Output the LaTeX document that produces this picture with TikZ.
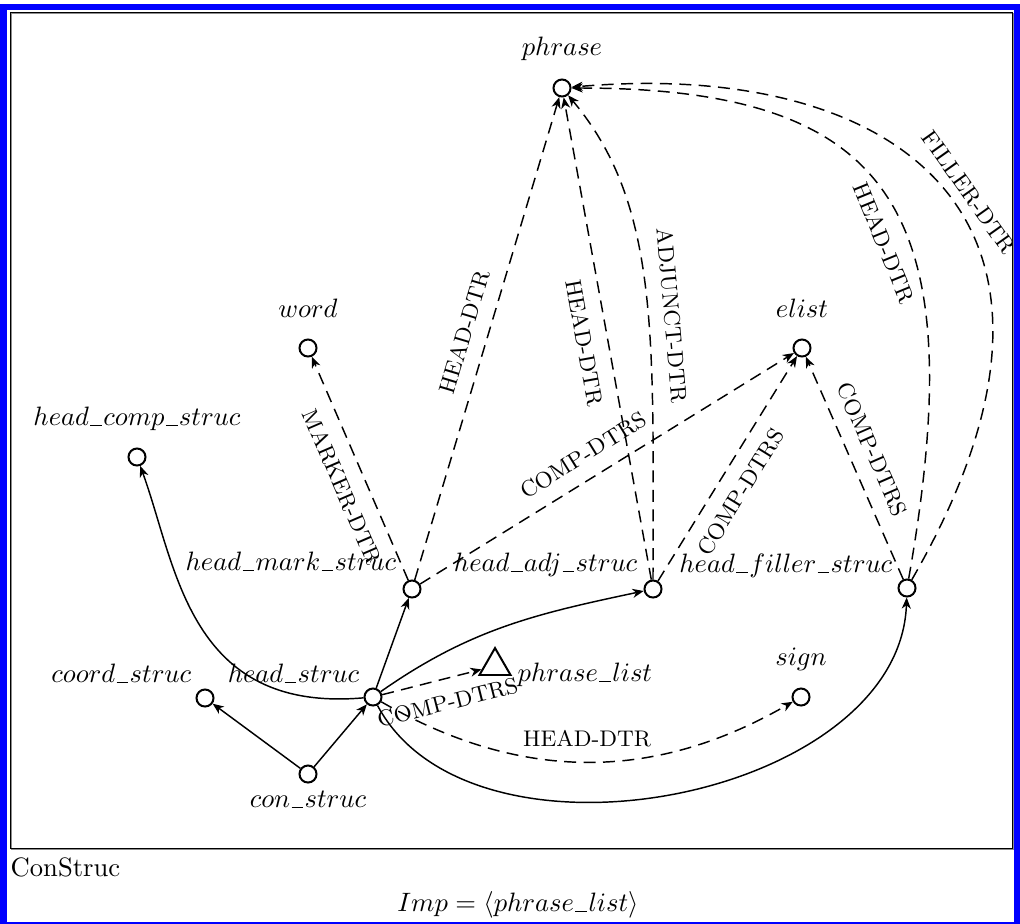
\documentclass[tikz,border=0pt]{standalone}
\usetikzlibrary{arrows.meta, shapes.geometric, positioning}

\newcommand{\us}{\mbox{\kern0.5pt\rule[-0.4pt]{4.4pt}{0.45pt}\kern0.5pt}}

\begin{document}
\begin{tikzpicture}[
        x=0.376pt, y=0.376pt,
        line width=0.55pt,
        >={Stealth[length=4.2pt, width=3.4pt, inset=1.3pt]},
        tnode/.style={circle, draw, line width=0.75pt, minimum size=6.4pt, inner sep=0pt},
        tlist/.style={regular polygon, regular polygon sides=3, draw, line width=0.75pt, minimum size=13.5pt, inner sep=0pt},
        tname/.style={inner sep=0pt, anchor=base},
        isa/.style={->},
        feat/.style={->, dash pattern=on 4.5pt off 2.8pt},
        flabel/.style={font=\fontsize{8.5}{10}\selectfont, sloped, inner sep=5.5pt}
    ]
        \useasboundingbox (0,0) rectangle (1020,-923);

        % Frames
        \draw[blue, line width=2.26pt] (3.5,-7) rectangle (1017,-924.5);
        \draw[black!45, line width=0.6pt] (11.5,-13.5) rectangle (1013.5,-849.5);
        \draw[line width=0.5pt] (10.5,-12.5) rectangle (1012.5,-848.5);

        % Types
        \node (phrase) [tnode] at (562,-88) {};
        \node (word) [tnode] at (308,-348) {};
        \node (elist) [tnode] at (802,-348) {};
        \node (hcomp) [tnode] at (137,-457) {};
        \node (hmark) [tnode] at (412,-589) {};
        \node (hadj) [tnode] at (653,-589) {};
        \node (hfiller) [tnode] at (907,-588) {};
        \node (coord) [tnode] at (205,-698) {};
        \node (hstruc) [tnode] at (373,-697) {};
        \node (plist) [tlist] at (495,-666) {};
        \node (sign) [tnode] at (801,-697) {};
        \node (con) [tnode] at (308,-774) {};

        % Type names
        \node (tphrase) [tname] at (562,-55) {$phrase$};
        \node (tword) [tname] at (308,-317) {$word$};
        \node (telist) [tname] at (802,-317) {$elist$};
        \node (thcomp) [tname] at (137,-425) {$head\us comp\us struc$};
        \node (thmark) [tname, anchor=base east] at (397,-570) {$head\us mark\us struc$};
        \node (thadj) [tname, anchor=base east] at (638,-571) {$head\us adj\us struc$};
        \node (thfiller) [tname, anchor=base east] at (893,-572) {$head\us filler\us struc$};
        \node (tcoord) [tname, anchor=base east] at (192,-682) {$coord\us struc$};
        \node (thstruc) [tname, anchor=base east] at (360,-682) {$head\us struc$};
        \node (tplist) [tname, anchor=base west] at (517,-681) {$phrase\us list$};
        \node (tsign) [tname] at (801,-665) {$sign$};
        \node (tcon) [tname] at (308,-807) {$con\us struc$};

        % Subtypes
        \draw [isa] (con) -- (coord);
        \draw [isa] (con) -- (hstruc);
        \draw [isa] (hstruc) to[out=185, in=-70, out looseness=1.4, in looseness=0.85] (hcomp);
        \draw [isa] (hstruc) -- (hmark);
        \draw [isa] (hstruc) to[out=35, in=192] (hadj);
        \draw [isa] (hstruc) to[out=-62, in=-92, looseness=0.95] (hfiller);

        % Features
        \draw [feat] (hstruc) -- node[flabel, below, pos=0.6] {COMP-DTRS} (plist);
        \draw [feat] (hstruc) to[out=-30, in=-150] node[flabel, above] {HEAD-DTR} (sign);
        \draw [feat] (hmark) -- node[flabel, below, pos=0.46] {MARKER-DTR} (word);
        \draw [feat] (hmark) -- node[flabel, above, pos=0.5] {HEAD-DTR} (phrase);
        \draw [feat] (hmark) -- node[flabel, above, pos=0.47] {COMP-DTRS} (elist);
        \draw [feat] (hadj) -- node[flabel, below, pos=0.5] {HEAD-DTR} (phrase);
        \draw [feat] (hadj) to[out=90, in=-50, out looseness=1.25, in looseness=0.75] node[flabel, above, pos=0.44] {ADJUNCT-DTR} (phrase);
        \draw [feat] (hadj) -- node[flabel, below, pos=0.45] {COMP-DTRS} (elist);
        \draw [feat] (hfiller) -- node[flabel, above, pos=0.54] {COMP-DTRS} (elist);
        \draw [feat] (hfiller) to[out=80, in=0, out looseness=1.62, in looseness=1.37] node[flabel, below, pos=0.42] {HEAD-DTR} (phrase);
        \draw [feat] (hfiller) to[out=60, in=5, out looseness=1.78, in looseness=1.4] node[flabel, above, pos=0.47, inner sep=3.5pt] {FILLER-DTR} (phrase);

        % Caption
        \node (title) [inner sep=0pt, anchor=base west] at (10,-876) {ConStruc};
        \node (imp) [inner sep=0pt, anchor=base] at (518,-911) {$Imp = \langle phrase\us list\rangle$};
    \end{tikzpicture}
\end{document}
